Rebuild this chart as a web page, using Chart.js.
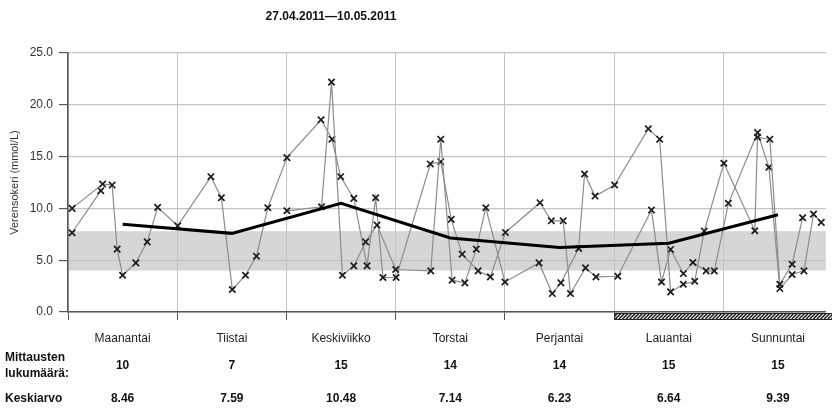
<!DOCTYPE html>
<html>
<head>
<meta charset="utf-8">
<script src="https://cdn.jsdelivr.net/npm/chart.js@4"></script>
<style>
  html, body { margin: 0; padding: 0; background: #fff; overflow: hidden; }
  #wrap { width: 832px; height: 413px; position: relative; }
</style>
</head>
<body>
<div id="wrap"><canvas id="sugarChart"></canvas></div>
<script>
const titleText = "27.04.2011\u201410.05.2011";
const yTitle = "Verensokeri (mmol/L)";

// Weekdays (x axis is hours from Monday 00:00)
const days = ["Maanantai", "Tiistai", "Keskiviikko", "Torstai", "Perjantai", "Lauantai", "Sunnuntai"];
const counts = [10, 7, 15, 14, 14, 15, 15];
const means = [8.46, 7.59, 10.48, 7.14, 6.23, 6.64, 9.39];

// Target range
const targetLow = 4.0;
const targetHigh = 7.8;

// 27.04 - 01.05 (starts on Wednesday)
const week1Hours = [48.1, 55.7, 57.9, 60.3, 62.8, 65.4, 67.9,
    72.0, 79.7, 81.9, 84.4, 87.2, 89.7, 91.8,
    96.0, 103.5, 106.4, 108.3, 112.2, 113.5, 115.8,
    120.1, 127.5, 130.0, 132.4, 135.2, 137.7, 139.8,
    144.1, 150.9, 151.5, 154.2, 156.4, 159.1, 161.4];
const week1Values = [9.77, 10.16, 22.19, 3.55, 4.45, 6.77, 8.39,
    4.1, 3.97, 16.68, 3.07, 2.81, 6.07, 10.06,
    2.9, 4.74, 1.78, 2.81, 6.13, 13.32, 11.19,
    12.26, 17.68, 16.68, 1.94, 2.68, 2.97, 7.81,
    14.36, 7.84, 16.87, 16.68, 2.68, 4.61, 9.1];

// 02.05 - 08.05
const week2Hours = [0.9, 7.6, 9.7, 10.8, 12.0, 14.9, 17.4, 19.7,
    24.1, 31.4, 33.7, 36.1, 39.0, 41.4, 43.9,
    48.1, 55.6, 58.0, 59.9, 62.8, 65.7, 67.6, 69.2,
    72.1, 79.6, 81.9, 84.2, 86.6, 90.1, 92.8,
    96.1, 103.7, 106.2, 108.8, 110.4, 113.7, 116.0,
    120.8, 128.2, 130.4, 132.4, 135.2, 137.3, 140.2, 142.0,
    145.1, 151.5, 154.0, 156.4, 159.1, 161.7, 163.8, 165.5];
const week2Values = [10.0, 12.35, 12.25, 6.07, 3.55, 4.74, 6.77, 10.1,
    8.32, 13.06, 11.03, 2.17, 3.55, 5.39, 10.06,
    14.9, 18.55, 16.68, 13.06, 10.97, 4.45, 11.03, 3.33,
    3.33, 14.29, 14.51, 8.94, 5.58, 3.97, 3.39,
    7.68, 10.55, 8.8, 8.8, 1.78, 4.26, 3.39,
    3.45, 9.84, 2.9, 6.04, 3.71, 4.78, 3.97, 3.97,
    10.49, 17.32, 13.97, 2.26, 3.62, 3.97, 9.45, 8.65];

// 09.05
const week3Hours = [0.9, 7.2];
const week3Values = [7.65, 11.7];

const FONT = "'Liberation Sans', Arial, sans-serif";

function toPoints(hours, values) {
    return hours.map((h, i) => ({ x: h, y: values[i] }));
}

function measureSet(hours, values) {
    return {
        data: toPoints(hours, values),
        borderColor: "#8c8c8c",
        borderWidth: 1.2,
        pointStyle: "crossRot",
        pointRadius: 4.5,
        pointBorderColor: "#1c1c1c",
        pointBorderWidth: 1.7,
        tension: 0,
        order: 1
    };
}

/* target band behind the grid */
const bandPlugin = {
    id: "band",
    beforeDraw(chart) {
        const { ctx, chartArea, scales } = chart;
        const yTop = scales.y.getPixelForValue(targetHigh);
        const yBot = scales.y.getPixelForValue(targetLow);
        ctx.save();
        ctx.fillStyle = "#d6d6d6";
        ctx.fillRect(chartArea.left, yTop, chartArea.right - chartArea.left, yBot - yTop);
        ctx.restore();
    }
};

/* title, axis title, day labels, table and weekend hatch */
const textPlugin = {
    id: "texts",
    afterDraw(chart) {
        const { ctx, chartArea, scales } = chart;
        const x = scales.x;
        ctx.save();

        // weekend hatch under the axis
        const hx0 = x.getPixelForValue(120);
        const hx1 = chartArea.right + 10;
        const hy0 = chartArea.bottom + 1;
        const hh = 6;
        ctx.fillStyle = "#fff";
        ctx.fillRect(hx0, hy0, hx1 - hx0, hh);
        ctx.beginPath();
        ctx.rect(hx0, hy0, hx1 - hx0, hh);
        ctx.clip();
        ctx.strokeStyle = "#222";
        ctx.lineWidth = 1.6;
        for (let sx = hx0 - hh; sx < hx1; sx += 3.6) {
            ctx.beginPath();
            ctx.moveTo(sx, hy0 + hh);
            ctx.lineTo(sx + hh, hy0);
            ctx.stroke();
        }
        ctx.restore();
        ctx.save();
        ctx.strokeStyle = "#222";
        ctx.lineWidth = 1;
        ctx.strokeRect(hx0 + 0.5, hy0 + 0.5, hx1 - hx0, hh);

        ctx.fillStyle = "#111";
        ctx.textBaseline = "middle";

        // title
        ctx.font = "bold 12px " + FONT;
        ctx.textAlign = "center";
        ctx.fillText(titleText, 331, 17);

        // y axis title
        ctx.save();
        ctx.translate(15, (chartArea.top + chartArea.bottom) / 2);
        ctx.rotate(-Math.PI / 2);
        ctx.font = "11px " + FONT;
        ctx.fillStyle = "#333";
        ctx.fillText(yTitle, 0, 0);
        ctx.restore();

        // day names
        ctx.font = "12px " + FONT;
        ctx.fillStyle = "#222";
        days.forEach((d, i) => {
            ctx.fillText(d, x.getPixelForValue(12 + 24 * i), 339);
        });

        // table rows
        ctx.font = "bold 12px " + FONT;
        ctx.fillStyle = "#111";
        ctx.textAlign = "left";
        ctx.fillText("Mittausten", 5, 358);
        ctx.fillText("lukum\u00e4\u00e4r\u00e4:", 5, 374);
        ctx.fillText("Keskiarvo", 5, 399);
        ctx.textAlign = "center";
        counts.forEach((c, i) => {
            ctx.fillText(String(c), x.getPixelForValue(12 + 24 * i), 366);
        });
        means.forEach((m, i) => {
            ctx.fillText(m.toFixed(2), x.getPixelForValue(12 + 24 * i), 399);
        });
        ctx.restore();
    }
};

new Chart(document.getElementById("sugarChart"), {
    type: "line",
    data: {
        datasets: [
            {
                data: means.map((m, i) => ({ x: 12 + 24 * i, y: m })),
                borderColor: "#000",
                borderWidth: 3,
                pointRadius: 0,
                tension: 0,
                order: 0
            },
            measureSet(week1Hours, week1Values),
            measureSet(week2Hours, week2Values),
            measureSet(week3Hours, week3Values)
        ]
    },
    options: {
        responsive: true,
        maintainAspectRatio: false,
        animation: false,
        events: [],
        layout: { padding: { top: 53, left: 0, right: 0, bottom: 0 } },
        plugins: {
            legend: { display: false },
            tooltip: { enabled: false }
        },
        scales: {
            x: {
                type: "linear",
                min: 0,
                max: 166.5,
                afterBuildTicks(scale) {
                    scale.ticks = [0, 24, 48, 72, 96, 120, 144].map(v => ({ value: v }));
                },
                afterFit(scale) { scale.height = 101; },
                ticks: { display: false },
                grid: { color: "#c4c4c4", tickColor: "#555", tickLength: 8, lineWidth: 1 },
                border: { color: "#555", width: 1.5 }
            },
            y: {
                min: 0,
                max: 25,
                afterFit(scale) { scale.width = 68; },
                ticks: {
                    stepSize: 5,
                    padding: 6,
                    color: "#333",
                    font: { family: FONT, size: 12 },
                    callback: v => v.toFixed(1)
                },
                grid: { color: "#c4c4c4", tickColor: "#555", tickLength: 9, lineWidth: 1.2 },
                border: { color: "#555", width: 1.5 }
            }
        }
    },
    plugins: [bandPlugin, textPlugin]
});
</script>
</body>
</html>
